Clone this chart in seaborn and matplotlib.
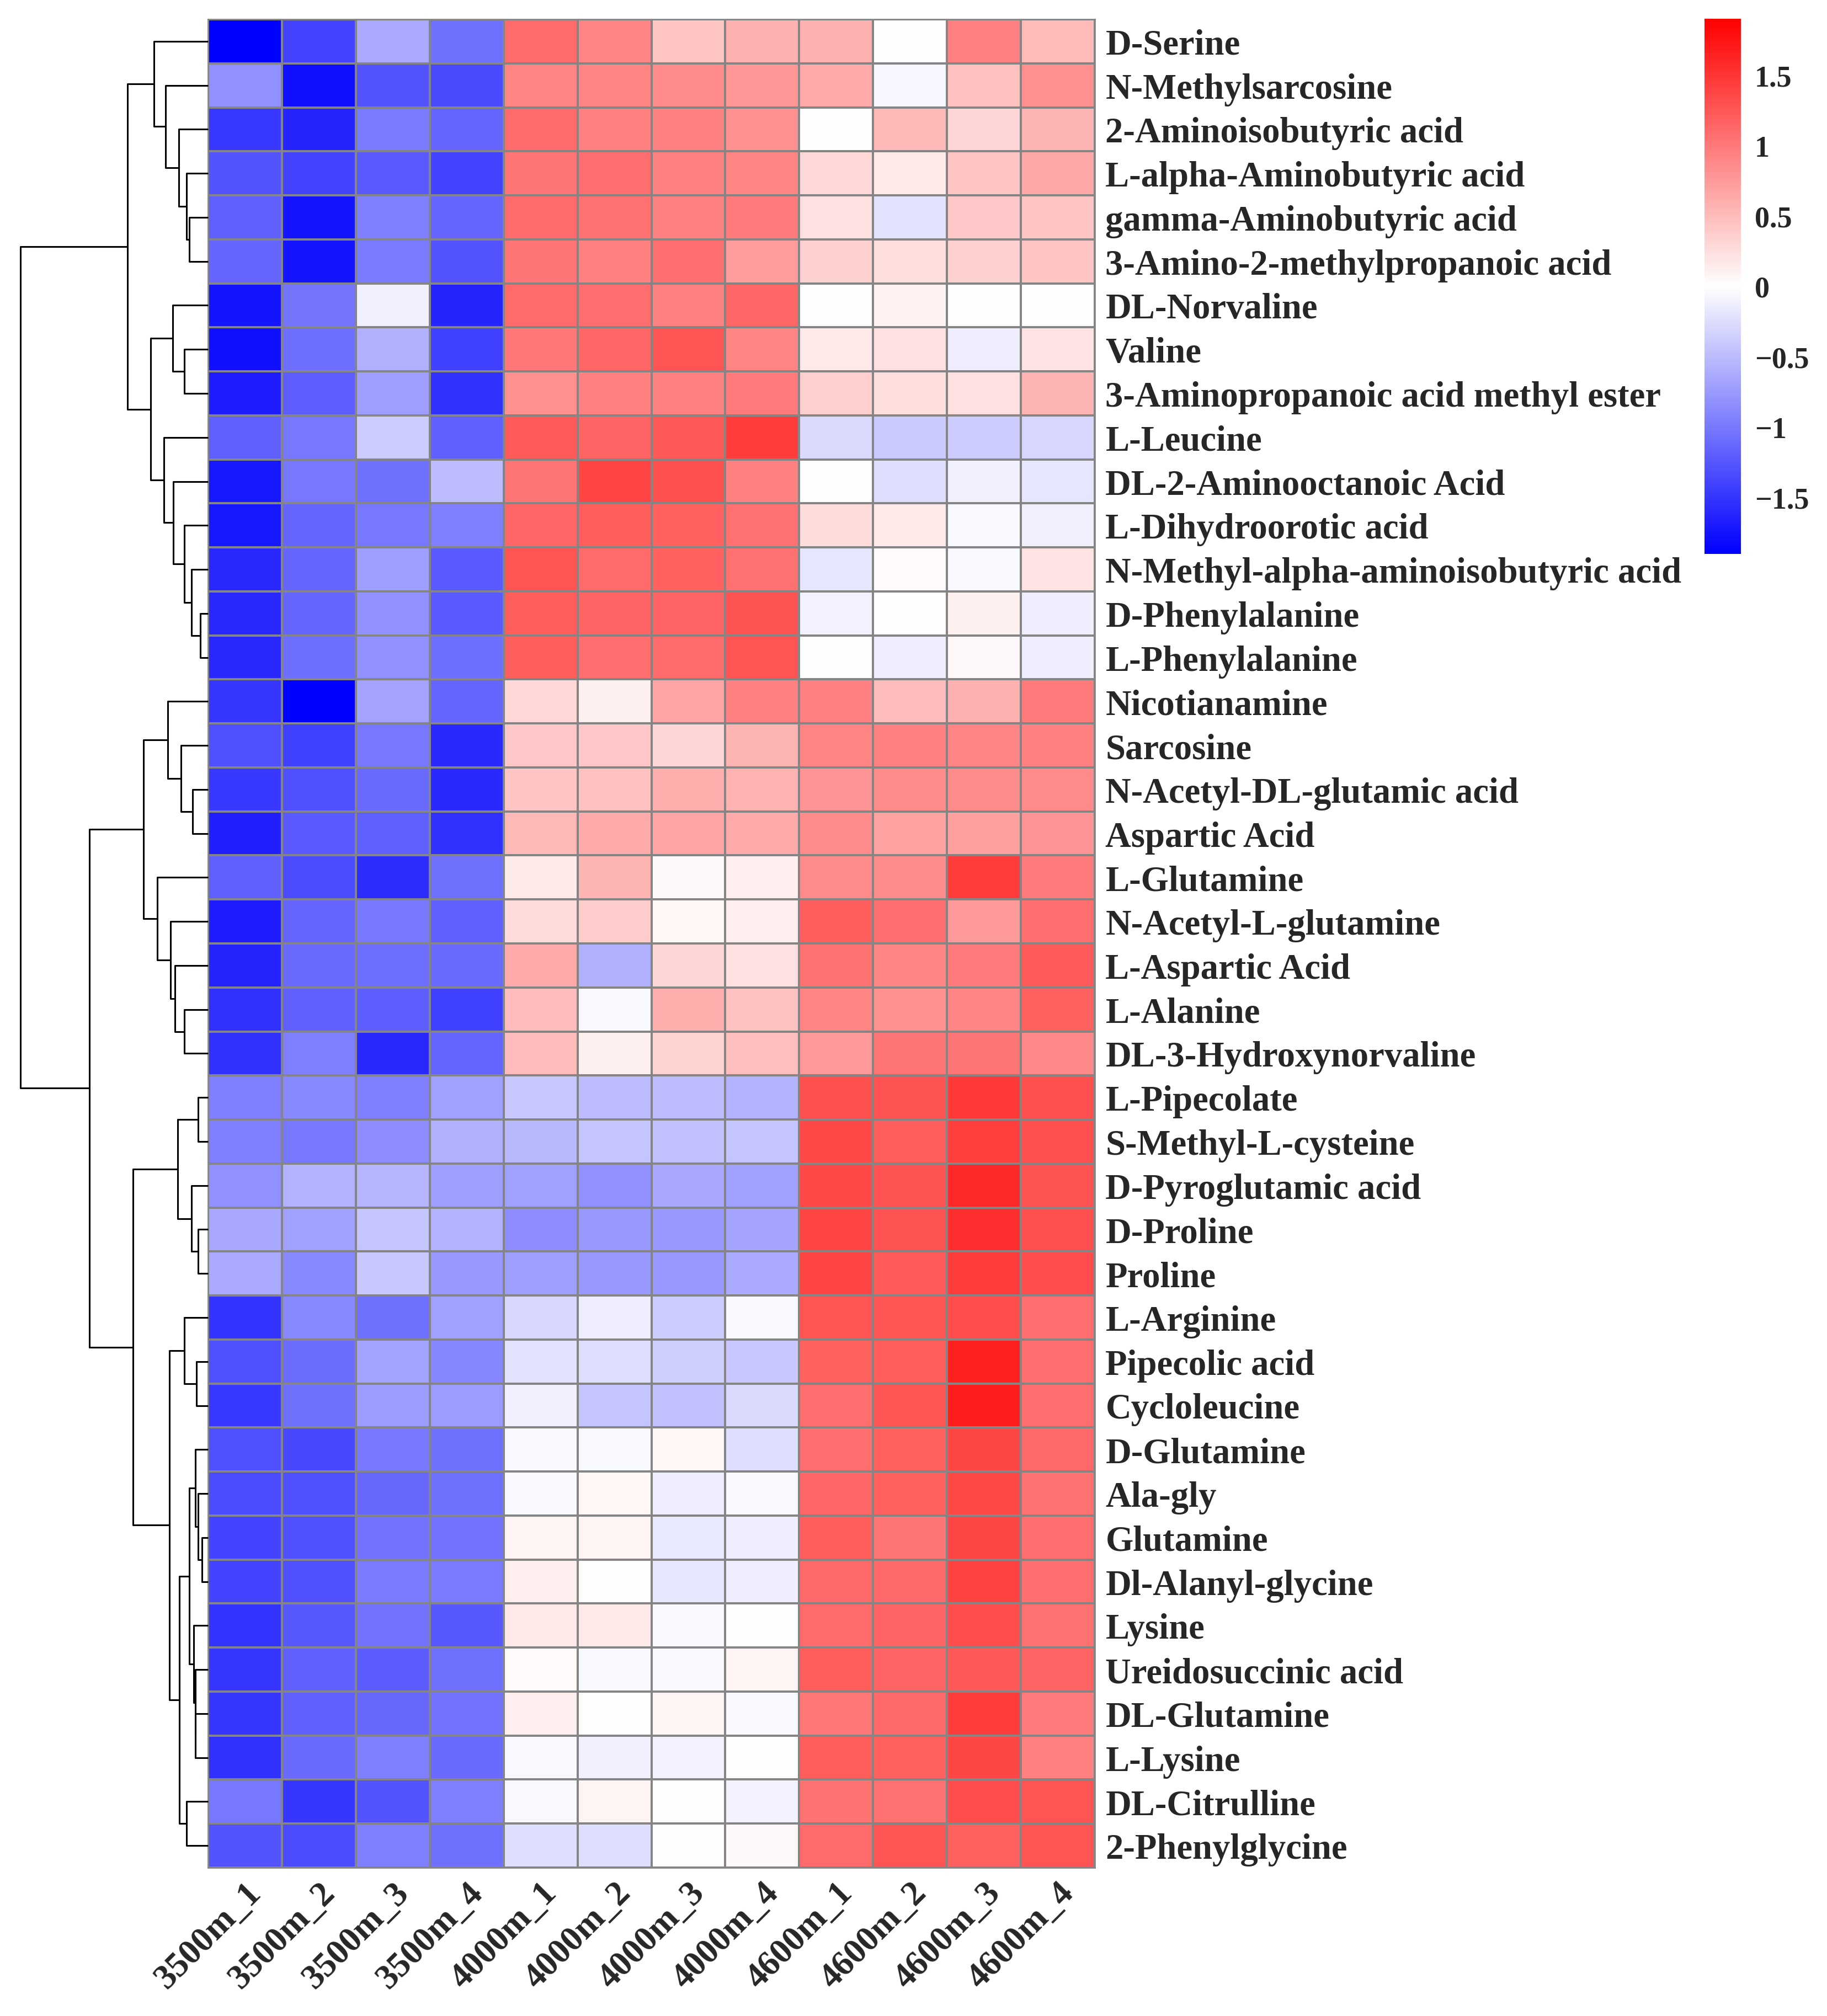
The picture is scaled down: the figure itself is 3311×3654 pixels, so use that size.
import numpy as np
import pandas as pd
import matplotlib
matplotlib.use("Agg")
import matplotlib.pyplot as plt
import seaborn as sns
from matplotlib.colors import LinearSegmentedColormap

metabolites = [
    "D-Serine", "N-Methylsarcosine", "2-Aminoisobutyric acid", "L-alpha-Aminobutyric acid",
    "gamma-Aminobutyric acid", "3-Amino-2-methylpropanoic acid", "DL-Norvaline", "Valine",
    "3-Aminopropanoic acid methyl ester", "L-Leucine", "DL-2-Aminooctanoic Acid",
    "L-Dihydroorotic acid", "N-Methyl-alpha-aminoisobutyric acid", "D-Phenylalanine",
    "L-Phenylalanine", "Nicotianamine", "Sarcosine", "N-Acetyl-DL-glutamic acid",
    "Aspartic Acid", "L-Glutamine", "N-Acetyl-L-glutamine", "L-Aspartic Acid", "L-Alanine",
    "DL-3-Hydroxynorvaline", "L-Pipecolate", "S-Methyl-L-cysteine", "D-Pyroglutamic acid",
    "D-Proline", "Proline", "L-Arginine", "Pipecolic acid", "Cycloleucine", "D-Glutamine",
    "Ala-gly", "Glutamine", "Dl-Alanyl-glycine", "Lysine", "Ureidosuccinic acid",
    "DL-Glutamine", "L-Lysine", "DL-Citrulline", "2-Phenylglycine",
]

samples = ["3500m_1", "3500m_2", "3500m_3", "3500m_4",
           "4000m_1", "4000m_2", "4000m_3", "4000m_4",
           "4600m_1", "4600m_2", "4600m_3", "4600m_4"]

s3500_1 = [-1.9, -0.83, -1.47, -1.27, -1.18, -1.14, -1.74, -1.77, -1.68, -1.18, -1.72, -1.72, -1.59, -1.6,
           -1.6, -1.49, -1.3, -1.47, -1.66, -1.18, -1.69, -1.62, -1.54, -1.54, -0.95, -0.95, -0.83, -0.65,
           -0.63, -1.5, -1.3, -1.47, -1.3, -1.33, -1.39, -1.39, -1.5, -1.49, -1.49, -1.54, -1.0, -1.27]
s3500_2 = [-1.39, -1.78, -1.62, -1.39, -1.74, -1.75, -1.03, -1.08, -1.2, -1.0, -1.0, -1.14, -1.14, -1.14,
           -1.08, -1.9, -1.42, -1.3, -1.23, -1.33, -1.14, -1.1, -1.18, -0.95, -0.89, -1.0, -0.57, -0.71,
           -0.89, -0.89, -1.09, -1.06, -1.36, -1.3, -1.3, -1.3, -1.24, -1.18, -1.18, -1.1, -1.49, -1.33]
s3500_3 = [-0.63, -1.27, -0.99, -1.23, -0.95, -0.99, -0.11, -0.59, -0.72, -0.38, -1.06, -1.0, -0.72, -0.83,
           -0.83, -0.67, -1.0, -1.1, -1.18, -1.56, -1.0, -1.08, -1.2, -1.6, -0.95, -0.86, -0.55, -0.44,
           -0.41, -1.06, -0.69, -0.73, -1.0, -1.12, -1.05, -0.99, -1.05, -1.21, -1.12, -0.95, -1.27, -0.95]
s3500_4 = [-1.06, -1.35, -1.14, -1.39, -1.14, -1.27, -1.62, -1.42, -1.52, -1.18, -0.5, -0.95, -1.23, -1.23,
           -1.08, -1.14, -1.59, -1.59, -1.54, -1.06, -1.18, -1.1, -1.42, -1.15, -0.71, -0.59, -0.72, -0.57,
           -0.77, -0.71, -0.9, -0.73, -1.06, -1.06, -1.05, -0.99, -1.24, -1.06, -1.05, -1.1, -0.95, -1.06]
s4000_1 = [1.1, 0.91, 1.1, 1.03, 1.1, 1.03, 1.1, 1.0, 0.83, 1.23, 1.03, 1.14, 1.27, 1.21,
           1.2, 0.29, 0.41, 0.44, 0.53, 0.15, 0.26, 0.63, 0.5, 0.5, -0.41, -0.53, -0.71, -0.86,
           -0.72, -0.29, -0.21, -0.11, -0.05, -0.05, 0.08, 0.13, 0.17, 0.04, 0.13, -0.05, -0.05, -0.25]
s4000_2 = [0.91, 0.91, 0.95, 1.07, 1.06, 0.95, 1.07, 1.14, 0.95, 1.15, 1.39, 1.2, 1.1, 1.15,
           1.07, 0.11, 0.41, 0.47, 0.63, 0.55, 0.38, -0.59, -0.05, 0.11, -0.5, -0.44, -0.83, -0.76,
           -0.76, -0.13, -0.25, -0.44, -0.05, 0.07, 0.08, 0.0, 0.15, -0.05, 0.0, -0.11, 0.08, -0.25]
s4000_3 = [0.44, 0.87, 0.95, 0.95, 0.95, 1.07, 0.95, 1.27, 0.95, 1.24, 1.3, 1.18, 1.18, 1.15,
           1.1, 0.67, 0.31, 0.62, 0.67, 0.05, 0.07, 0.31, 0.6, 0.33, -0.5, -0.47, -0.65, -0.77,
           -0.77, -0.38, -0.36, -0.47, 0.07, -0.12, -0.17, -0.19, -0.05, -0.05, 0.08, -0.1, 0.0, 0.0]
s4000_4 = [0.59, 0.78, 0.83, 0.91, 0.99, 0.73, 1.14, 0.91, 0.99, 1.45, 0.95, 1.06, 1.06, 1.29,
           1.27, 0.95, 0.55, 0.57, 0.63, 0.13, 0.13, 0.23, 0.45, 0.48, -0.57, -0.44, -0.71, -0.67,
           -0.63, -0.05, -0.41, -0.28, -0.25, -0.05, -0.13, -0.12, 0.0, 0.08, -0.05, 0.0, -0.1, 0.05]
s4600_1 = [0.59, 0.63, 0.0, 0.29, 0.23, 0.35, 0.0, 0.16, 0.36, -0.28, 0.0, 0.26, -0.19, -0.1,
           0.0, 0.95, 0.91, 0.79, 0.85, 0.87, 1.2, 1.04, 0.91, 0.77, 1.3, 1.36, 1.36, 1.39,
           1.39, 1.27, 1.18, 1.07, 1.08, 1.14, 1.2, 1.12, 1.1, 1.21, 1.0, 1.21, 1.04, 1.1]
s4600_2 = [0.0, -0.07, 0.53, 0.15, -0.21, 0.25, 0.09, 0.23, 0.24, -0.4, -0.25, 0.15, 0.04, 0.0,
           -0.13, 0.5, 0.95, 0.85, 0.69, 0.85, 1.07, 0.91, 0.83, 1.03, 1.29, 1.2, 1.29, 1.29,
           1.23, 1.27, 1.21, 1.27, 1.18, 1.18, 1.03, 1.12, 1.15, 1.15, 1.12, 1.18, 1.06, 1.27]
s4600_3 = [0.95, 0.47, 0.31, 0.44, 0.41, 0.35, 0.0, -0.12, 0.23, -0.38, -0.11, -0.05, -0.05, 0.11,
           0.05, 0.59, 0.91, 0.85, 0.7, 1.45, 0.75, 0.99, 0.91, 1.03, 1.48, 1.43, 1.59, 1.55,
           1.45, 1.33, 1.66, 1.68, 1.38, 1.36, 1.38, 1.41, 1.33, 1.24, 1.45, 1.38, 1.33, 1.18]
s4600_4 = [0.51, 0.83, 0.55, 0.65, 0.44, 0.44, 0.01, 0.21, 0.55, -0.31, -0.19, -0.11, 0.21, -0.12,
           -0.12, 0.99, 0.95, 0.87, 0.79, 0.99, 1.08, 1.23, 1.18, 0.88, 1.3, 1.3, 1.29, 1.3,
           1.33, 1.07, 1.07, 1.07, 1.12, 1.04, 1.08, 1.07, 1.06, 1.15, 0.98, 0.95, 1.27, 1.27]

# Row dendrogram: (child a, child b, merge height); leaves are 0..41, new nodes 42.. in order
row_merges = [
    (4, 5, 33.7), (3, 42, 38.6), (2, 43, 52.6), (1, 44, 76.5), (0, 45, 97.5),
    (7, 8, 42.8), (6, 47, 63.9),
    (13, 14, 14.0), (12, 49, 30.0), (11, 50, 42.8), (10, 51, 63.0), (9, 52, 80.0),
    (48, 53, 103.0), (46, 54, 145.0),
    (17, 18, 28.0), (16, 56, 49.0), (15, 57, 73.0),
    (22, 23, 43.0), (21, 59, 60.0), (20, 60, 68.0), (19, 61, 91.0),
    (58, 62, 116.5),
    (24, 25, 17.5), (27, 28, 17.5), (26, 65, 30.0), (64, 66, 55.0),
    (30, 31, 21.0), (29, 68, 43.0),
    (34, 35, 10.5), (33, 70, 18.0), (32, 71, 22.5),
    (38, 39, 22.5), (37, 73, 23.0), (36, 74, 26.0),
    (72, 75, 33.7), (40, 41, 39.0), (76, 77, 52.0),
    (69, 78, 70.0), (67, 79, 135.0), (63, 80, 214.0), (55, 81, 338.0),
]

cbar_ticks = [-1.5, -1, -0.5, 0, 0.5, 1, 1.5]
cbar_ticklabels = ["\u22121.5", "\u22121", "\u22120.5", "0", "0.5", "1", "1.5"]

sns.set_style("white")
plt.rcParams["font.family"] = ["Liberation Serif", "DejaVu Serif"]
plt.rcParams["font.weight"] = "bold"

columns = [s3500_1, s3500_2, s3500_3, s3500_4, s4000_1, s4000_2, s4000_3, s4000_4,
           s4600_1, s4600_2, s4600_3, s4600_4]
for c in columns:
    assert len(c) == len(metabolites), len(c)
df = pd.DataFrame(np.column_stack(columns), index=metabolites, columns=samples)

W, H = 3311, 3655
fig = plt.figure(figsize=(W / 100, H / 100), dpi=100)
top, bot = 36, 3386
ax = fig.add_axes([377 / W, 1 - bot / H, (1984 - 377) / W, (bot - top) / H])
dax = fig.add_axes([37 / W, 1 - bot / H, (377 - 37) / W, (bot - top) / H])
cax = fig.add_axes([3089 / W, 1 - 1005 / H, 66 / W, (1005 - 35) / H])

cmap = LinearSegmentedColormap.from_list("bwr_ref", ["#0000FF", "#FFFFFF", "#FF0000"])
sns.heatmap(df, ax=ax, cbar_ax=cax, cmap=cmap, vmin=-1.9, vmax=1.9,
            linewidths=2.6, linecolor="#858585", xticklabels=True, yticklabels=True,
            cbar_kws={"ticks": cbar_ticks})

for sp in ax.spines.values():
    sp.set_visible(True)
    sp.set_color("#858585")
    sp.set_linewidth(2.0)

ax.set_xlabel("")
ax.set_ylabel("")
ax.yaxis.tick_right()
ax.tick_params(axis="y", length=0, pad=14, labelsize=46.5, labelrotation=0,
               labelright=True, labelleft=False)
ax.set_yticklabels(metabolites, rotation=0, ha="left", fontsize=46.5, fontweight="bold")
ax.tick_params(axis="x", length=0, pad=12, labelsize=46)
ax.set_xticklabels(samples, rotation=45, ha="right", va="top", rotation_mode="anchor",
                   fontsize=46, fontweight="bold")

cbar = ax.collections[0].colorbar
cbar.outline.set_visible(False)
cbar.set_ticks(cbar_ticks)
cbar.set_ticklabels(cbar_ticklabels)
cax.tick_params(length=0, labelsize=39, pad=18)
for t in cax.get_yticklabels():
    t.set_fontweight("bold")

# dendrogram
n = len(metabolites)
pos = {i: i + 0.5 for i in range(n)}
hgt = {i: 0.0 for i in range(n)}
for k, (a, b, h) in enumerate(row_merges):
    node = n + k
    ya, yb = pos[a], pos[b]
    dax.plot([hgt[a], h, h, hgt[b]], [ya, ya, yb, yb], color="black", lw=2.2,
             solid_capstyle="butt", clip_on=False)
    pos[node] = (ya + yb) / 2
    hgt[node] = h
dax.set_ylim(n, 0)
dax.set_xlim(max(hgt.values()), 0)
dax.axis("off")

fig.savefig("out.png", dpi=100)
